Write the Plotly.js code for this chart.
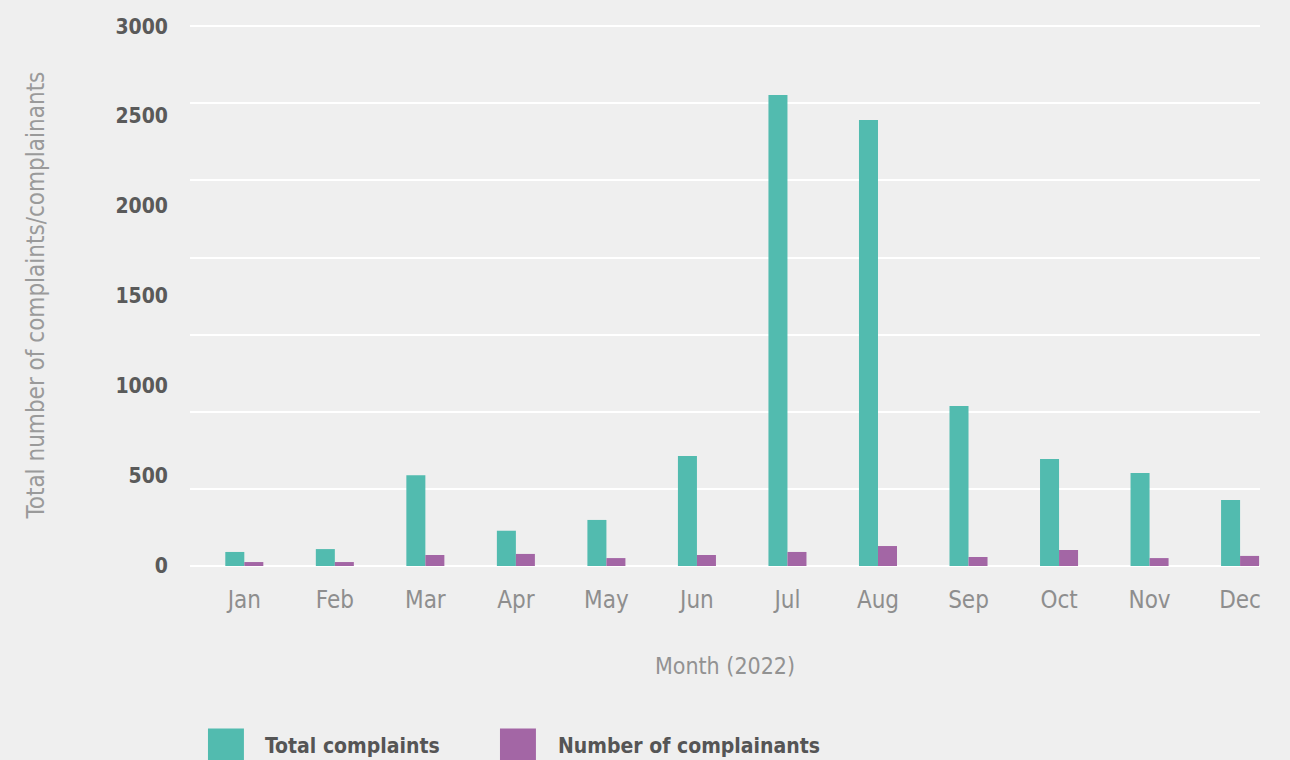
<!DOCTYPE html>
<html>
<head>
<meta charset="utf-8">
<script src="https://cdn.plot.ly/plotly-3.0.1.min.js"></script>
<style>
  html, body { margin: 0; padding: 0; background: #efefef; }
  #chart { width: 1290px; height: 760px; }
</style>
</head>
<body>
<div id="chart"></div>
<script>
// Monthly complaint figures for 2022
const months = ["Jan", "Feb", "Mar", "Apr", "May", "Jun", "Jul", "Aug", "Sep", "Oct", "Nov", "Dec"];
const totalComplaints = [78, 94, 505, 196, 256, 611, 2617, 2478, 889, 594, 517, 367];
const numberOfComplainants = [22, 22, 61, 67, 44, 61, 78, 111, 50, 89, 44, 56];
const seriesNames = ["Total complaints", "Number of complainants"];
const seriesColors = ["#52bbaf", "#a366a5"];
const yTickValues = [0, 500, 1000, 1500, 2000, 2500, 3000];

const FONT = '"DejaVu Sans Condensed", "Liberation Sans Narrow", sans-serif';
const yMax = 3000;
// a little headroom so the top grid line is not clipped at the plot edge
const yTop = 3012;
// grid lines split the value range into seven equal bands
const gridValues = [0, 1, 2, 3, 4, 5, 6, 7].map(k => k * yMax / 7);

const traces = [
  {
    type: "bar", name: seriesNames[0], x: months, y: totalComplaints,
    marker: { color: seriesColors[0] }, hoverinfo: "x+y+name"
  },
  {
    type: "bar", name: seriesNames[1], x: months, y: numberOfComplainants,
    marker: { color: seriesColors[1] }, hoverinfo: "x+y+name"
  },
  // invisible trace that carries the labelled value axis
  {
    type: "scatter", x: [months[0]], y: [0], yaxis: "y2",
    mode: "markers", marker: { opacity: 0 }, showlegend: false, hoverinfo: "skip"
  }
];

// Legend drawn as large swatches with labels under the chart
const legendX = [0.0168, 0.2897];
const legendTextX = [0.068, 0.342];
const shapes = [];
const annotations = [];
seriesNames.forEach((name, i) => {
  shapes.push({
    type: "rect", xref: "paper", yref: "paper",
    x0: legendX[i], x1: legendX[i] + 0.0336, y0: -0.3, y1: -0.372,
    fillcolor: seriesColors[i], line: { width: 0 }
  });
  annotations.push({
    xref: "paper", yref: "paper", x: legendTextX[i], y: -0.332,
    xanchor: "left", yanchor: "middle", showarrow: false, text: name,
    font: { family: FONT, size: 21, color: "#555555", weight: 600 }
  });
});

const layout = {
  width: 1290, height: 760,
  paper_bgcolor: "#efefef", plot_bgcolor: "#efefef",
  margin: { l: 190, r: 30, t: 24, b: 194 },
  showlegend: false,
  barmode: "group", bargap: 0.58, bargroupgap: 0,
  font: { family: FONT },
  xaxis: {
    type: "category", range: [-0.6, 11.22],
    showgrid: false, zeroline: false, showline: false, ticks: "",
    ticklabelstandoff: 17,
    tickfont: { family: FONT, size: 24, color: "#8e8e8e" },
    title: { text: "Month (2022)", standoff: 44, font: { family: FONT, size: 23, color: "#929292" } }
  },
  yaxis: {
    range: [0, yTop], tickmode: "array", tickvals: gridValues,
    showticklabels: false, ticks: "",
    showgrid: true, gridcolor: "#ffffff", gridwidth: 2,
    zeroline: true, zerolinecolor: "#ffffff", zerolinewidth: 2,
    showline: false, fixedrange: true
  },
  yaxis2: {
    overlaying: "y", side: "left", range: [0, yTop],
    tickmode: "array", tickvals: yTickValues, ticktext: yTickValues.map(String),
    showgrid: false, zeroline: false, showline: false, ticks: "",
    ticklabelstandoff: 21,
    tickfont: { family: FONT, size: 21, color: "#5a5a5a", weight: 600 },
    title: { text: "Total number of complaints/complainants", standoff: 64,
             font: { family: FONT, size: 24, color: "#9a9a9a" } }
  },
  shapes: shapes,
  annotations: annotations
};

Plotly.newPlot("chart", traces, layout, { displayModeBar: false, staticPlot: true });
</script>
</body>
</html>
